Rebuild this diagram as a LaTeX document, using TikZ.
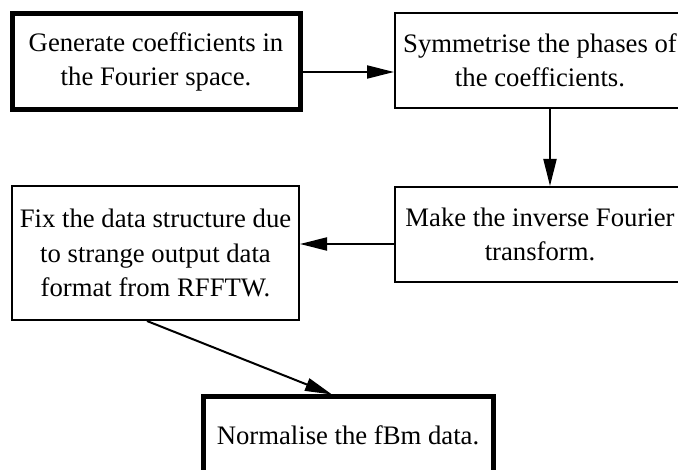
\documentclass[tikz,border=0pt]{standalone}
\usepackage{fontspec}
\setmainfont{Liberation Serif}
\usetikzlibrary{arrows.meta}
\begin{document}
\begin{tikzpicture}[x=1pt,y=-1pt,
  boxthin/.style={draw, line width=2pt, rectangle, inner sep=0pt, align=center,
    font=\fontsize{26.7}{34.5}\selectfont},
  boxthick/.style={boxthin, line width=5pt},
  arr/.style={line width=2pt, -{Triangle[length=27pt,width=13pt]}}]
\useasboundingbox (0,0) rectangle (678,470);
\clip (0,0) rectangle (678,470);
\node[boxthick, minimum width=288pt, minimum height=96pt] (b1) at (156,62)
  {Generate coefficients in\\the Fourier space.};
\node[boxthin, minimum width=290pt, minimum height=95pt] (b2) at (540,60.5)
  {Symmetrise the phases of\\the coefficients.};
\node[boxthin, minimum width=290pt, minimum height=95pt] (b3) at (540,234.5)
  {Make the inverse Fourier\\transform.};
\node[boxthin, minimum width=287pt, minimum height=134pt] (b4) at (155.5,253)
  {Fix the data structure due\\to strange output data\\format from RFFTW.};
\node[boxthick, minimum width=290pt, minimum height=76pt] (b5) at (348,435)
  {Normalise the fBm data.};
\coordinate (a1) at (0,72);
\coordinate (a2) at (550,0);
\coordinate (a3) at (0,244);
\coordinate (s4) at (147,0);
\coordinate (t5) at (332,0);
\draw[arr] (b1.east |- a1) -- (b2.west |- a1);
\draw[arr] (b2.south -| a2) -- (b3.north -| a2);
\draw[arr] (b3.west |- a3) -- (b4.east |- a3);
\draw[arr] (b4.south -| s4) -- (b5.north -| t5);
\end{tikzpicture}
\end{document}
